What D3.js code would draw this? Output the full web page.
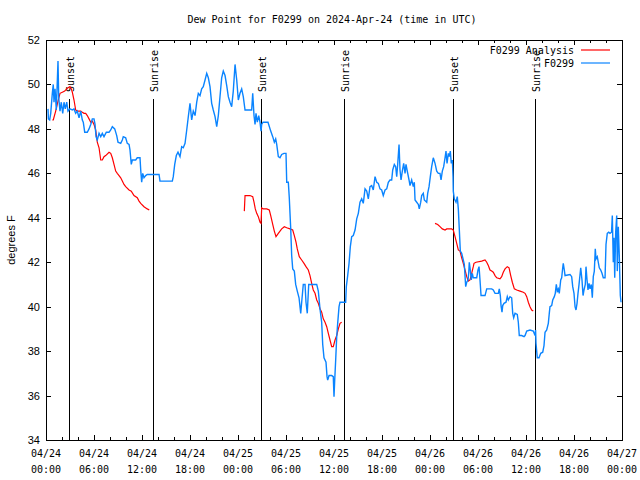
<!DOCTYPE html>
<html><head><meta charset="utf-8">
<script src="https://cdn.jsdelivr.net/npm/d3@7"></script>
<style>
html,body{margin:0;padding:0;background:#fff;}
svg{display:block;}
.mono{font-family:"DejaVu Sans Mono","Liberation Mono",monospace;font-size:10px;}
.sans{font-family:"Liberation Sans",Arial,sans-serif;font-size:11px;}
</style>
</head><body>
<script>
// ---------- DATA ----------
const title = "Dew Point for F0299 on 2024-Apr-24 (time in UTC)";
const yLabel = "degrees F";
const startTime = "2024-04-24T00:00:00Z";
const endTime = "2024-04-27T00:00:00Z";
const yTicks = [34, 36, 38, 40, 42, 44, 46, 48, 50, 52];
const seriesNames = ["F0299 Analysis", "F0299"];

// Observations (hours after start, degrees F)
const obsHours = [0.25,0.3,0.46,0.59,0.79,0.91,1.0,1.13,1.29,1.5,1.59,1.75,1.91,2.09,2.25,2.41,2.59,2.75,3.0,3.29,3.5,3.71,3.91,4.13,4.34,4.54,4.66,4.84,5.16,5.38,5.59,5.79,6.0,6.13,6.25,6.41,6.63,6.84,7.04,7.25,7.54,7.88,8.09,8.29,8.59,8.84,9.0,9.34,9.54,9.66,9.96,10.16,10.38,10.5,10.66,10.79,11.21,11.41,11.75,11.84,11.96,12.09,12.25,12.46,12.66,13.5,14.13,14.25,15.79,15.91,16.09,16.29,16.5,16.75,16.96,17.16,17.38,17.59,17.79,18.0,18.21,18.41,18.63,18.84,19.04,19.25,19.46,19.66,19.88,20.09,20.29,20.5,20.71,20.91,21.13,21.34,21.54,21.75,21.96,22.16,22.38,22.59,22.79,23.0,23.21,23.41,23.63,23.84,24.04,24.25,24.46,24.66,24.88,25.71,25.84,26.0,26.13,26.25,26.41,26.59,26.75,26.88,26.96,27.13,27.75,28.09,28.34,28.54,28.71,28.84,29.04,29.25,29.46,29.75,30.0,30.09,30.29,30.41,30.59,30.71,30.84,31.04,31.21,31.41,31.63,31.84,31.96,32.16,32.38,32.5,32.66,32.84,33.84,34.04,34.25,34.46,34.59,34.75,35.0,35.13,35.21,35.38,35.71,35.91,36.0,36.09,36.21,36.34,36.46,36.63,36.75,37.46,37.54,37.71,37.88,38.04,38.21,38.41,38.63,38.84,39.04,39.25,39.46,39.66,39.88,40.09,40.29,40.5,40.71,40.91,41.13,41.34,41.54,41.75,41.96,42.16,42.38,42.59,42.79,43.0,43.21,43.34,43.54,43.71,43.84,43.96,44.13,44.25,44.38,44.54,44.71,44.88,45.0,45.16,45.38,45.5,45.71,45.91,46.04,46.13,46.34,46.54,46.66,46.84,46.96,47.16,47.29,47.59,47.71,47.88,48.04,48.21,48.41,48.63,48.84,49.04,49.25,49.38,49.54,49.71,49.88,50.0,50.13,50.29,50.41,50.54,50.66,50.79,50.88,50.91,51.04,51.25,51.41,51.54,51.66,51.79,51.96,52.16,52.29,52.46,52.59,52.75,52.84,52.91,53.04,53.16,53.29,53.41,53.84,54.0,54.13,54.25,54.38,54.88,55.09,55.71,55.91,56.13,56.54,56.66,56.79,56.88,57.0,57.09,57.25,57.5,57.66,57.79,58.0,58.21,58.34,58.46,58.63,58.91,59.04,59.16,59.46,59.75,59.88,60.09,60.5,60.91,61.13,61.2,61.25,61.41,61.63,61.84,62.09,62.25,62.38,62.59,62.79,62.91,63.0,63.21,63.34,63.54,63.66,63.79,63.91,64.04,64.16,64.34,64.46,64.59,64.66,64.79,64.88,65.5,65.71,65.84,66.0,66.13,66.25,66.38,66.5,66.63,66.84,67.0,67.13,67.25,67.41,67.5,67.63,67.75,67.88,68.0,68.16,68.29,68.41,68.54,68.66,68.75,68.91,69.16,69.34,69.5,69.66,69.88,70.0,70.16,70.34,70.5,70.69,70.79,70.91,71.0,71.09,71.21,71.34,71.41,71.54,71.66,71.79,71.88];
const obsValues = [48.9,48.45,48.4,48.7,49.6,50.0,49.2,49.8,48.85,51.05,49.4,48.8,49.2,48.7,49.2,48.9,49.2,48.8,48.9,48.85,48.9,48.7,48.8,48.5,48.8,48.4,48.3,47.85,47.85,48.0,48.2,48.45,48.45,48.2,47.65,47.5,47.8,47.65,47.8,47.65,47.85,47.85,47.95,48.1,48.0,47.7,47.4,47.35,47.5,47.65,47.6,47.35,47.3,47.05,46.4,46.6,46.6,46.7,46.7,46.15,45.6,46.0,45.8,45.9,45.95,45.95,45.95,45.65,45.65,45.85,46.4,46.8,46.95,46.75,47.2,47.15,47.35,47.95,48.55,49.15,48.4,48.8,48.6,49.2,49.6,49.5,49.8,49.9,50.2,50.5,50.3,49.9,49.15,48.85,48.55,48.1,48.6,49.45,50.3,50.6,50.4,49.95,49.45,49.2,49.0,49.7,50.9,50.2,49.3,49.6,49.8,49.45,48.85,48.85,49.6,48.6,48.2,48.7,48.3,48.6,48.3,47.9,48.2,48.3,48.3,47.9,47.65,47.4,47.55,47.3,46.75,46.7,46.85,46.9,46.9,45.6,45.6,44.9,43.5,42.3,41.7,41.6,41.0,40.7,40.4,39.7,40.2,41.0,41.0,40.2,39.7,41.0,41.0,40.7,39.9,39.3,38.3,37.7,37.5,36.85,36.7,36.9,36.9,36.85,35.95,36.7,37.6,38.65,39.25,40.0,40.2,40.2,40.9,41.4,41.95,42.7,43.15,43.2,43.45,43.95,44.2,44.7,44.85,44.65,45.3,45.2,44.85,45.4,45.45,45.25,45.85,45.6,45.55,45.3,45.25,45.0,45.25,45.3,45.6,45.7,45.7,46.15,46.4,46.3,45.85,46.4,47.3,46.15,45.7,46.1,46.45,46.0,46.4,46.1,45.7,45.45,45.7,45.4,45.6,44.8,44.7,44.6,44.4,44.7,45.0,45.1,44.8,44.7,45.1,45.4,45.85,46.3,46.7,46.45,46.1,46.0,46.0,45.7,46.1,46.3,46.7,47.0,46.45,46.9,46.75,47.0,46.45,46.6,45.85,45.2,44.85,44.7,44.95,44.4,43.5,42.5,42.4,42.1,41.9,40.9,41.1,41.2,41.5,42.0,41.65,41.2,41.5,41.3,41.3,41.65,41.8,41.2,40.5,40.5,40.8,40.8,40.75,40.6,40.6,40.8,40.5,40.05,39.75,40.05,40.15,40.2,40.45,40.3,40.45,40.4,39.7,39.5,39.7,39.65,39.3,38.7,38.7,38.65,38.7,38.9,38.95,38.9,38.7,38.95,38.35,37.7,37.7,37.9,37.95,38.25,38.85,38.95,39.25,39.7,40.0,40.05,40.3,40.45,40.6,41.0,40.7,40.8,40.6,41.2,41.3,41.75,41.95,41.65,41.4,41.45,41.35,40.9,40.6,40.0,39.85,40.15,40.6,41.0,41.75,41.2,40.5,40.75,41.0,41.8,41.2,40.75,41.05,40.8,41.0,40.4,41.35,41.6,42.6,42.15,42.25,41.75,41.65,41.5,41.3,41.3,42.8,43.3,43.35,43.3,43.35,44.1,42.0,43.1,41.3,43.35,44.1,41.6,43.6,42.3,40.5,40.2];

// Analysis (hours after start, degrees F); null marks a gap
const anaHours = [0.79,0.91,1.21,1.5,1.75,2.04,2.34,2.59,2.75,3.0,3.16,3.29,3.5,3.71,3.91,4.34,4.54,4.75,4.96,5.16,5.38,5.59,5.79,6.0,6.21,6.41,6.63,6.84,7.04,7.25,7.46,7.88,8.09,8.29,8.5,8.71,8.91,9.13,9.34,9.54,9.75,9.96,10.38,10.66,11.0,11.41,11.63,11.84,12.25,12.66,12.91,
  18.0,
  24.79,24.88,25.09,25.5,25.84,26.0,26.16,26.34,26.54,26.75,26.88,26.96,27.16,27.59,27.91,28.09,28.34,28.54,28.75,29.04,29.46,29.79,30.09,30.5,30.84,31.04,31.25,31.41,31.66,31.96,32.25,32.5,32.79,33.0,33.21,33.41,33.63,33.84,34.04,34.25,34.46,34.66,34.88,35.09,35.29,35.5,35.71,35.91,36.13,36.34,36.54,36.75,36.96,
  42.0,
  48.63,48.96,49.25,49.54,49.88,50.09,50.71,50.91,51.13,51.34,51.54,51.75,51.96,52.16,52.38,52.59,52.79,53.0,53.21,53.41,53.5,53.75,54.46,54.88,55.09,55.29,55.5,55.71,55.91,56.13,56.34,56.75,56.96,57.16,57.38,57.66,57.88,58.09,58.29,58.54,58.84,59.25,59.66,59.88,60.09,60.29,60.5,60.71,60.91];
const anaValues = [48.4,48.4,48.8,49.25,49.6,49.65,49.7,49.8,49.85,49.9,49.8,49.65,49.3,48.85,48.8,48.8,48.75,48.7,48.7,48.6,48.45,48.3,48.35,48.2,47.95,47.4,47.15,46.6,46.6,46.75,46.8,46.95,46.9,46.7,46.4,46.1,46.0,45.9,45.8,45.65,45.5,45.4,45.25,45.2,45.0,44.9,44.75,44.65,44.5,44.4,44.35,
  null,
  44.3,45.0,45.0,45.0,44.95,44.7,44.4,44.2,44.05,43.8,43.75,44.45,44.4,44.4,44.35,44.1,43.7,43.4,43.15,43.3,43.5,43.6,43.55,43.5,43.45,43.2,42.9,42.6,42.25,42.1,41.95,41.8,41.65,41.4,41.05,40.75,40.6,40.3,40.15,39.9,39.75,39.45,39.3,39.1,38.8,38.5,38.2,38.2,38.5,38.7,39.0,39.25,39.3,
  null,
  43.75,43.7,43.6,43.5,43.45,43.5,43.5,43.45,43.15,42.85,42.55,42.5,42.2,41.95,41.65,41.35,41.15,41.2,41.5,41.8,41.95,42.0,42.05,42.1,42.0,41.85,41.65,41.6,41.55,41.4,41.3,41.25,41.35,41.55,41.7,41.8,41.75,41.4,41.1,40.8,40.75,40.7,40.65,40.6,40.45,40.2,40.0,39.85,39.8];

// Sun events (hours after start)
const sunLabels = ["Sunset","Sunrise","Sunset","Sunrise","Sunset","Sunrise"];
const sunHours = [2.92, 13.33, 26.93, 37.3, 50.92, 61.17];

// ---------- CHART ----------
const W = 640, H = 480;
const M = {left:46, right:622, top:40, bottom:440};
const t0 = new Date(startTime), t1 = new Date(endTime);
const toDate = h => new Date(t0.getTime() + h*3600e3);

const svg = d3.select("body").append("svg").attr("width", W).attr("height", H);
const x = d3.scaleUtc().domain([t0, t1]).range([M.left, M.right]);
const y = d3.scaleLinear().domain([34, 52]).range([M.bottom, M.top]);

// title
svg.append("text").attr("class","mono").attr("x", 332).attr("y", 23)
  .attr("text-anchor","middle").text(title);

// y label
svg.append("text").attr("class","sans")
  .attr("transform", `translate(15,${(M.top+M.bottom)/2}) rotate(-90)`)
  .attr("text-anchor","middle").text(yLabel);

// axes with ticks on all sides
const g = svg.append("g");
const majorT = d3.utcHour.every(6).range(t0, new Date(t1.getTime()+1));
const minorT = d3.utcHour.every(2).range(t0, new Date(t1.getTime()+1));

const bottomAx = d3.axisBottom(x).tickValues(majorT).tickSize(-5).tickFormat("");
const topAx = d3.axisTop(x).tickValues(majorT).tickSize(-5).tickFormat("");
const bottomMinor = d3.axisBottom(x).tickValues(minorT).tickSize(-3).tickFormat("");
const topMinor = d3.axisTop(x).tickValues(minorT).tickSize(-3).tickFormat("");
const leftAx = d3.axisLeft(y).tickValues(yTicks).tickSize(-5).tickFormat("");
const rightAx = d3.axisRight(y).tickValues(yTicks).tickSize(-5).tickFormat("");

function addAxis(ax, tr){
  const a = g.append("g").attr("transform", tr).call(ax);
  a.select(".domain").remove();
  a.selectAll("line").attr("stroke","#000").attr("shape-rendering","crispEdges");
  return a;
}
addAxis(bottomMinor, `translate(0,${M.bottom})`);
addAxis(topMinor, `translate(0,${M.top})`);
addAxis(bottomAx, `translate(0,${M.bottom})`);
addAxis(topAx, `translate(0,${M.top})`);
addAxis(leftAx, `translate(${M.left},0)`);
addAxis(rightAx, `translate(${M.right},0)`);

// x tick labels (two lines)
const fmtD = d3.utcFormat("%m/%d"), fmtT = d3.utcFormat("%H:%M");
const xl = svg.append("g").attr("class","mono");
majorT.forEach(d => {
  const t = xl.append("text").attr("text-anchor","middle");
  t.append("tspan").attr("x", x(d)).attr("y", 457).text(fmtD(d));
  t.append("tspan").attr("x", x(d)).attr("y", 473).text(fmtT(d));
});
// y tick labels
const yl = svg.append("g").attr("class","sans");
yTicks.forEach(v => {
  yl.append("text").attr("x", 40).attr("y", y(v)+4).attr("text-anchor","end").text(v);
});

// sun lines + labels
sunHours.forEach((h,i) => {
  const xp = Math.round(x(toDate(h))) + 0.5;
  svg.append("line").attr("x1", xp).attr("x2", xp).attr("y1", 99).attr("y2", M.bottom)
    .attr("stroke","#000").attr("stroke-width",1);
  svg.append("text").attr("class","mono")
    .attr("transform", `translate(${xp+4},92) rotate(-90)`)
    .attr("text-anchor","start").text(sunLabels[i]);
});

// series
const obs = obsHours.map((h,i)=>({t:toDate(h), v:obsValues[i]}));
const ana = anaHours.map((h,i)=>({t:toDate(h), v:anaValues[i]}));
const line = d3.line().defined(d => d.v !== null).x(d => x(d.t)).y(d => y(d.v));

svg.append("path").datum(ana).attr("d", line).attr("fill","none")
  .attr("stroke","#ff0000").attr("stroke-width",1.2);
svg.append("path").datum(obs).attr("d", line).attr("fill","none")
  .attr("stroke","#0a84ff").attr("stroke-width",1.4);

// frame
svg.append("rect").attr("x", M.left+0.5).attr("y", M.top+0.5)
  .attr("width", M.right-M.left).attr("height", M.bottom-M.top)
  .attr("fill","none").attr("stroke","#000").attr("shape-rendering","crispEdges");

// legend
const legColors = ["#ff0000", "#0a84ff"];
seriesNames.forEach((n,i) => {
  const ly = 50 + i*13;
  svg.append("text").attr("class","mono").attr("x", 574).attr("y", ly+4)
    .attr("text-anchor","end").text(n);
  svg.append("line").attr("x1", 581).attr("x2", 610).attr("y1", ly).attr("y2", ly)
    .attr("stroke", legColors[i]).attr("stroke-width", 1.2);
});
</script>
</body></html>
